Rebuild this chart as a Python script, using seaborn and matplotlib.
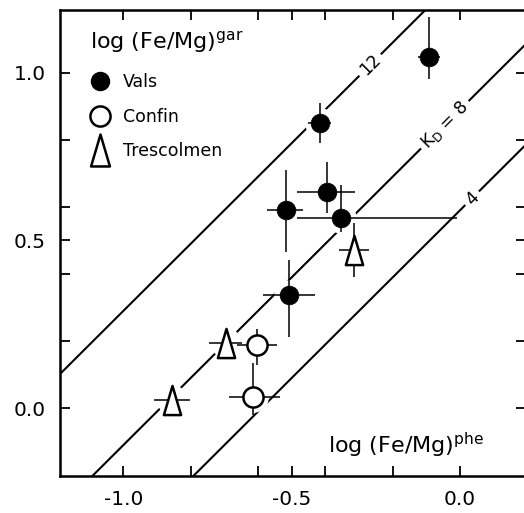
import numpy as np
import matplotlib
matplotlib.use("Agg")
import matplotlib.pyplot as plt
import seaborn as sns
from matplotlib.path import Path
from matplotlib.lines import Line2D

# ---------------- data ----------------
vals_x = [-0.092, -0.416, -0.395, -0.517, -0.353, -0.508]
vals_y = [1.047, 0.850, 0.645, 0.592, 0.568, 0.338]
vals_xerr_lo = [0.034, 0.034, 0.089, 0.056, 0.131, 0.077]
vals_xerr_hi = [0.034, 0.034, 0.083, 0.050, 0.345, 0.077]
vals_yerr_lo = [0.066, 0.060, 0.063, 0.125, 0.042, 0.125]
vals_yerr_hi = [0.119, 0.060, 0.089, 0.119, 0.098, 0.104]

confin_x = [-0.603, -0.615]
confin_y = [0.189, 0.034]
confin_xerr_lo = [0.059, 0.071]
confin_xerr_hi = [0.059, 0.080]
confin_yerr_lo = [0.060, 0.054]
confin_yerr_hi = [0.048, 0.100]

tres_x = [-0.695, -0.855, -0.315]
tres_y = [0.195, 0.025, 0.472]
tres_xerr_lo = [0.050, 0.053, 0.044]
tres_xerr_hi = [0.048, 0.053, 0.044]
tres_yerr_lo = [0.0, 0.0, 0.080]
tres_yerr_hi = [0.0, 0.0, 0.080]

series_names = ["Vals", "Confin", "Trescolmen"]

kd_labels = ["12", "K$_\\mathregular{D}$ = 8", "4"]
kd_intercepts = [1.29, 0.89, 0.59]
kd_label_x = [-0.267, -0.045, 0.036]

x_ticks = [-1.0, -0.5, 0.0]
x_tick_labels = ["-1.0", "-0.5", "0.0"]
x_minor = [-0.8, -0.6, -0.4, -0.2]
y_ticks = [0.0, 0.5, 1.0]
y_tick_labels = ["0.0", "0.5", "1.0"]
y_minor = [0.2, 0.4, 0.6, 0.8]
xlim = (-1.188, 0.196)
ylim = (-0.202, 1.187)

xlabel = "log (Fe/Mg)$^{\\mathregular{phe}}$"
ylabel = "log (Fe/Mg)$^{\\mathregular{gar}}$"

# ---------------- style ----------------
sns.set_style("ticks")
plt.rcParams["font.family"] = ["DejaVu Sans"]
plt.rcParams["axes.unicode_minus"] = False
plt.rcParams["text.color"] = "black"
plt.rcParams["xtick.color"] = "black"
plt.rcParams["ytick.color"] = "black"
plt.rcParams["axes.labelcolor"] = "black"

W, H = 524, 513
fig = plt.figure(figsize=(W / 100, H / 100), dpi=100)
ax = fig.add_axes([60 / W, 37 / H, 466 / W, 466 / H])
ax.set_xlim(*xlim)
ax.set_ylim(*ylim)

tri = Path([(0, 1), (-0.59, -1), (0.59, -1), (0, 1)],
           [Path.MOVETO, Path.LINETO, Path.LINETO, Path.CLOSEPOLY])

# KD lines
for b, lab, lx in zip(kd_intercepts, kd_labels, kd_label_x):
    xs = np.array(xlim)
    sns.lineplot(x=xs, y=xs + b, color="black", lw=1.5, ax=ax, zorder=1)
    ax.text(lx, lx + b, lab, rotation=45, rotation_mode="anchor",
            ha="center", va="center", fontsize=12.5, zorder=1.5,
            bbox=dict(fc="white", ec="none", pad=3))

# white halos so lines break around symbols
all_x = vals_x + confin_x + tres_x
all_y = vals_y + confin_y + tres_y
ax.scatter(all_x, all_y, s=22 ** 2, color="white", lw=0, zorder=2)

# error bars
for xs, ys, xl, xh, yl, yh in [
    (vals_x, vals_y, vals_xerr_lo, vals_xerr_hi, vals_yerr_lo, vals_yerr_hi),
    (confin_x, confin_y, confin_xerr_lo, confin_xerr_hi, confin_yerr_lo, confin_yerr_hi),
    (tres_x, tres_y, tres_xerr_lo, tres_xerr_hi, tres_yerr_lo, tres_yerr_hi),
]:
    ax.errorbar(xs, ys, xerr=[xl, xh], yerr=[yl, yh], fmt="none",
                ecolor="black", elinewidth=1.1, capsize=0, zorder=3)

# symbols
sns.scatterplot(x=vals_x, y=vals_y, marker="o", s=13.5 ** 2, color="black",
                edgecolor="black", linewidth=0.5, legend=False, ax=ax, zorder=4)
sns.scatterplot(x=confin_x, y=confin_y, marker="o", s=14.5 ** 2, color="white",
                edgecolor="black", linewidth=1.8, legend=False, ax=ax, zorder=4)
sns.scatterplot(x=tres_x, y=tres_y, marker=tri, s=21 ** 2, color="white",
                edgecolor="black", linewidth=1.8, legend=False, ax=ax, zorder=4)

# legend
handles = [
    Line2D([], [], ls="none", marker="o", ms=13, mfc="black", mec="black"),
    Line2D([], [], ls="none", marker="o", ms=14.5, mfc="white", mec="black", mew=1.8),
    Line2D([], [], ls="none", marker=tri, ms=23, mfc="white", mec="black", mew=1.8),
]
ax.legend(handles, series_names, loc="upper left", bbox_to_anchor=(0.0635, 0.864),
          frameon=False, fontsize=12.5, handlelength=1.2, handletextpad=0.7,
          labelspacing=0.95, borderpad=0, borderaxespad=0)

# axis labels inside the frame
ax.text(0.065, 0.929, ylabel, transform=ax.transAxes, ha="left", va="center",
        fontsize=16)
ax.text(0.575, 0.0665, xlabel, transform=ax.transAxes, ha="left", va="center",
        fontsize=16)
ax.set_xlabel("")
ax.set_ylabel("")

# ticks
ax.set_xticks(x_ticks)
ax.set_xticklabels(x_tick_labels)
ax.set_xticks(x_minor, minor=True)
ax.set_yticks(y_ticks)
ax.set_yticklabels(y_tick_labels)
ax.set_yticks(y_minor, minor=True)
ax.tick_params(which="both", direction="in", top=True, right=True,
               length=7, width=1.3, color="black")
ax.tick_params(which="major", labelsize=14.5, pad=10)
for s in ax.spines.values():
    s.set_linewidth(1.8)
    s.set_color("black")

fig.savefig("out.png", dpi=100)
